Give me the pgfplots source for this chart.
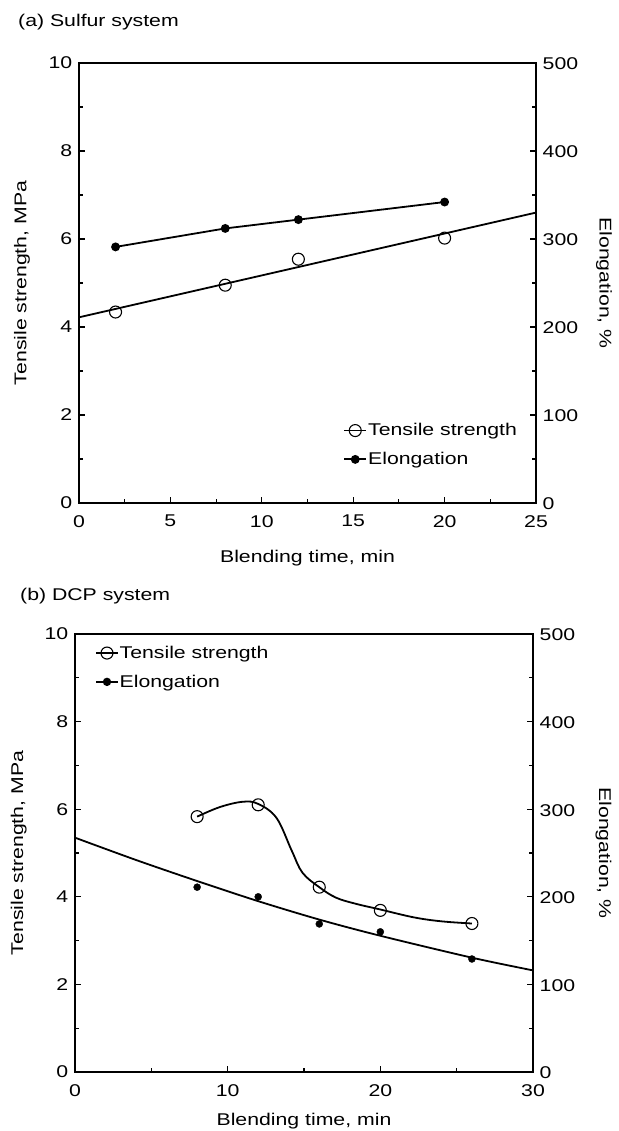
\documentclass[border=0pt]{standalone}
\usepackage{fontspec}
\setmainfont[FakeStretch=1.25]{Liberation Sans}
\usepackage{pgfplots}
\pgfplotsset{compat=1.18}

\pgfplotstableread{
x y
2 4.34
8 4.95
12 5.54
20 6.02
}\tsA
\pgfplotstableread{
x y
0 4.22
25 6.60
}\tsfitA
\pgfplotstableread{
x y
2 291
8 312
12 322
20 342
}\elA
\pgfplotstableread{
x y
8 5.83
12 6.10
16 4.22
20 3.69
26 3.39
}\tsB
\pgfplotstableread{
x y
8 5.83
9.5 6.05
11 6.17
12 6.12
13.2 5.80
14.2 5.05
14.9 4.55
16 4.22
17.1 3.98
18.4 3.84
20 3.71
22.2 3.53
24 3.44
26 3.39
}\tscurveB
\pgfplotstableread{
x y
8 211
12 200
16 169
20 160
26 129
}\elB
\pgfplotstableread{
x y
0 267.5
4 242
8 218
12 195
16 174
20 155.5
26 130.5
30 116
}\elcurveB

\pgfplotsset{
  base/.style={
    scale only axis,
    axis line style={line width=1.3pt},
    tick style={line width=1.1pt, black},
    major tick length=6pt, minor tick length=4pt,
    tick align=inside,
    /pgf/number format/assume math mode=true,
    tick label style={font=\fontsize{17}{20}\selectfont, inner sep=1pt},
    label style={font=\fontsize{17}{20}\selectfont},
    legend style={font=\fontsize{17}{20}\selectfont},
  },
  left/.style={base, ymin=0, ymax=10, ytick={0,2,...,10}, minor ytick={1,3,...,9},
    xtick pos=left, ytick pos=left,
    yticklabel style={xshift=-5.5pt},
    xticklabel style={yshift=-11pt},
    ylabel={Tensile strength, MPa},
    xlabel={Blending time, min}},
  right/.style={base, ymin=0, ymax=500, ytick={0,100,...,500}, minor ytick={50,150,...,450},
    axis x line=none, axis y line*=right,
    yticklabel style={xshift=5.5pt, yshift=-1pt},
    ylabel={Elongation, \%},
    ylabel style={rotate=180},
    legend style={draw=none, fill=none, inner sep=0pt, row sep=13pt,
      cells={anchor=west}, nodes={inner sep=1pt}},
    legend image code/.code={\draw[mark repeat=2,mark phase=2,#1] plot coordinates {(0pt,0pt) (11pt,0pt) (22pt,0pt)};},
  },
  tsmark/.style={only marks, mark=o, mark size=6pt, mark options={solid, line width=1.1pt, fill=white}},
  elmark/.style={mark=*, mark size=3.5pt, mark options={solid, fill=black}},
  dline/.style={line width=1.8pt, black},
}

\begin{document}
\begin{tikzpicture}[x=1pt,y=1pt]
\useasboundingbox (0,0) rectangle (618,1131);

\node[anchor=west, font=\fontsize{17}{20}\selectfont, inner sep=0pt] at (18,1109) {(a) Sulfur system};
\node[anchor=west, font=\fontsize{17}{20}\selectfont, inner sep=0pt] at (20,535) {(b) DCP system};

% ---------- Panel (a) ----------
\begin{axis}[left, at={(79pt,628pt)}, anchor=south west, width=457pt, height=440pt,
  xmin=0, xmax=25, xtick={0,5,...,25}, minor xtick={2.5,7.5,...,22.5},
  xlabel style={at={(axis description cs:0.5,-0.125)}, anchor=center},
  ylabel style={at={(axis description cs:-0.125,0.5)}, anchor=center}]
\addplot[dline, no marks] table {\tsfitA};
\addplot[tsmark] table {\tsA};
\end{axis}
\begin{axis}[right, at={(79pt,628pt)}, anchor=south west, width=457pt, height=440pt,
  xmin=0, xmax=25,
  ylabel style={at={(axis description cs:1.149,0.5)}, anchor=center},
  legend style={at={(0.578,0.183)}, anchor=north west}]
\addlegendimage{line width=1.3pt, black, mark=o, mark size=6pt, mark options={solid, line width=1.1pt, fill=white}}
\addlegendentry{Tensile strength}
\addplot[dline, elmark] table {\elA};
\addlegendentry{Elongation}
\end{axis}

% ---------- Panel (b) ----------
\begin{axis}[left, at={(75pt,59pt)}, anchor=south west, width=458pt, height=438pt,
  xmin=0, xmax=30, xtick={0,10,20,30}, minor xtick={5,15,25},
  xlabel style={at={(axis description cs:0.5,-0.112)}, anchor=center},
  ylabel style={at={(axis description cs:-0.123,0.5)}, anchor=center}]
\addplot[dline, no marks, smooth, tension=0.6] table {\tscurveB};
\addplot[tsmark] table {\tsB};
\end{axis}
\begin{axis}[right, at={(75pt,59pt)}, anchor=south west, width=458pt, height=438pt,
  xmin=0, xmax=30,
  ylabel style={at={(axis description cs:1.154,0.5)}, anchor=center},
  legend style={at={(0.044,0.975)}, anchor=north west}]
\addlegendimage{line width=1.3pt, black, mark=o, mark size=6pt, mark options={solid, line width=1.1pt, fill=white}}
\addlegendentry{Tensile strength}
\addlegendimage{line width=1.3pt, black, mark=*, mark size=3.5pt}
\addlegendentry{Elongation}
\addplot[dline, no marks, smooth] table {\elcurveB};
\addplot[only marks, elmark] table {\elB};
\end{axis}
\end{tikzpicture}
\end{document}
